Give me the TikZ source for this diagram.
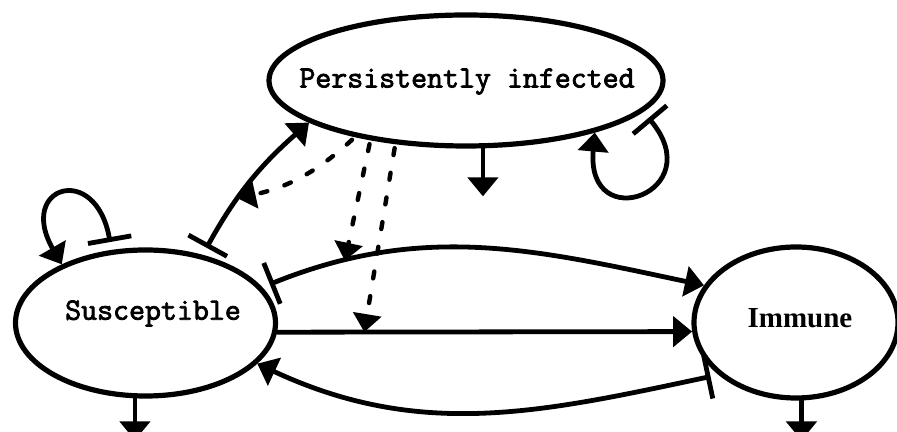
\documentclass[tikz,border=0pt]{standalone}
\usepackage{fontspec}
\newfontfamily\statefont{Latin Modern Mono}[FakeBold=2.5]
\newfontfamily\immfont{Liberation Serif}
\usepackage{tikz}
\usetikzlibrary{arrows.meta,positioning,shapes.geometric}

\begin{document}
\begin{tikzpicture}[
    x=0.5pt, y=0.5pt,
    statebox/.style={ellipse, draw, line width=2.6pt, inner sep=0pt},
    statetext/.style={font=\statefont\fontsize{15.5}{18}\selectfont},
    flowarrow/.style={line width=2.4pt, -{Triangle[length=9.5pt, width=15pt]}},
    barflow/.style={flowarrow, {Bar[width=22pt]}-{Triangle[length=9.5pt, width=15pt]}, shorten <=4pt},
    dasharrow/.style={line width=2.2pt, line cap=round, dash pattern=on 3.5pt off 9pt, shorten <=2pt, -{Triangle[length=9pt, width=14pt]}},
]
    \useasboundingbox (0,0) rectangle (897,432);
    \clip (0,0) rectangle (897,432);

    % States
    \node[statebox, minimum width=197pt, minimum height=65.5pt] (pers_inf) at (466,351.5) {};
    \node[statebox, minimum width=130pt, minimum height=73pt] (sus) at (145.5,109) {};
    \node[statebox, minimum width=102pt, minimum height=75.5pt] (imm) at (796,109.5) {};
    \node[statetext] (pers_inf_text) at (467,350.5) {Persistently infected};
    \node[statetext] (sus_text) at (153,118.5) {Susceptible};
    \node[font=\immfont\bfseries\fontsize{14.5}{17}\selectfont] (imm_text) at (800,114) {Immune};

    % Flows between states
    \draw[barflow] (sus.50) to[bend left=10] coordinate[pos=0.38] (flow_inf) (pers_inf.195);
    \draw[barflow] (sus.17) to[out=22, in=168] coordinate[pos=0.18] (flow_top) (imm.158);
    \draw[flowarrow] (sus.-4) -- coordinate[pos=0.21] (flow_vac) (imm.185);
    \draw[barflow] (imm.214) to[out=192, in=-25] (sus.-20);

    % Births (self loops)
    \draw[barflow] (sus.115) .. controls +(100:90) and +(120:90) .. (sus.145);
    \draw[barflow] (pers_inf.-10) .. controls +(-50:105) and +(-95:105) .. (pers_inf.-22);

    % Deaths
    \coordinate[below=21pt of sus.262] (sus_death);
    \coordinate[below=24pt of pers_inf.284] (pers_inf_death);
    \coordinate[below=20pt of imm.274] (imm_death);
    \draw[flowarrow] (sus.262) -- (sus_death);
    \draw[flowarrow] (pers_inf.284) -- (pers_inf_death);
    \draw[flowarrow] (imm.274) -- (imm_death);

    % Influence of persistently infected
    \draw[dasharrow] (pers_inf.207) to[bend left=15] (flow_inf);
    \draw[dasharrow] (pers_inf.212) -- (flow_top);
    \draw[dasharrow] (pers_inf.222) -- (flow_vac);
\end{tikzpicture}
\end{document}
